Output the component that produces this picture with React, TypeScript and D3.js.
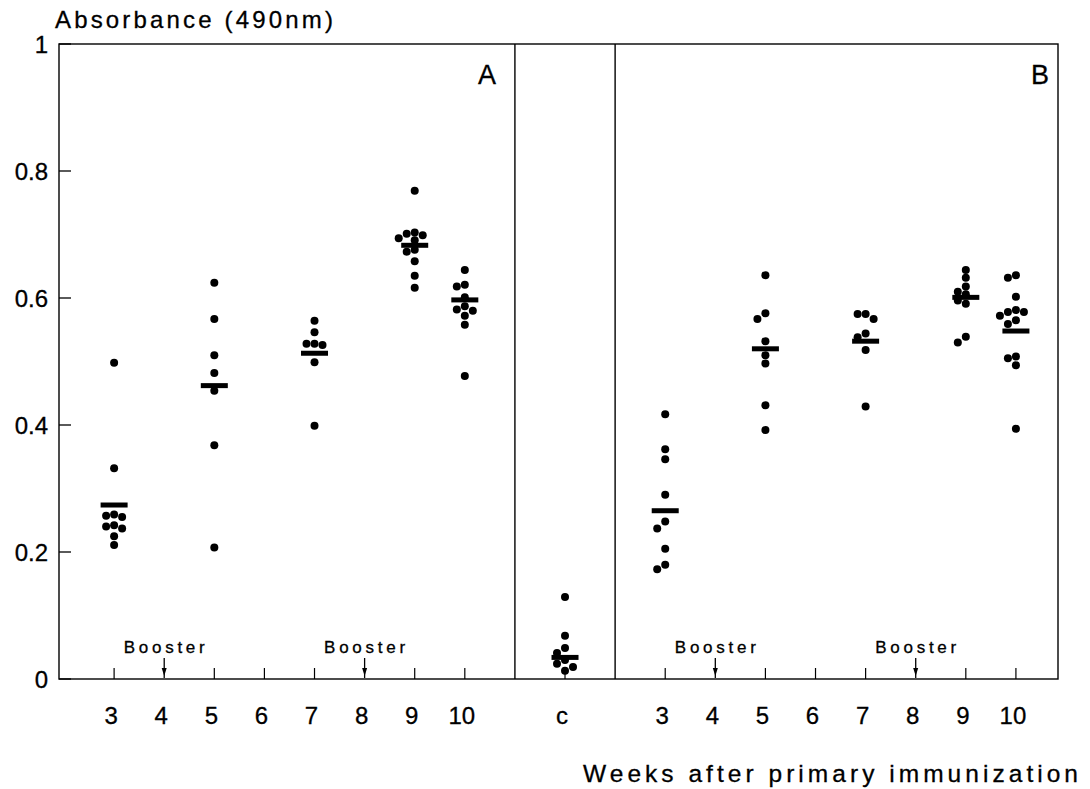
import React from "react";
import * as d3 from "d3";

// ---- Data ----
const weeks = [3, 5, 7, 9, 10];
const panelAValues: number[][] = [
  [0.498, 0.332, 0.259, 0.257, 0.255, 0.242, 0.24, 0.237, 0.225, 0.211],
  [0.624, 0.567, 0.51, 0.482, 0.454, 0.368, 0.207],
  [0.564, 0.546, 0.528, 0.528, 0.526, 0.499, 0.399],
  [0.769, 0.703, 0.701, 0.699, 0.694, 0.691, 0.676, 0.673, 0.658, 0.635, 0.616],
  [0.644, 0.621, 0.618, 0.601, 0.587, 0.582, 0.58, 0.572, 0.558, 0.477],
];
const panelAMeans = [0.274, 0.462, 0.513, 0.683, 0.597];
const controlValues = [0.129, 0.068, 0.049, 0.041, 0.03, 0.024, 0.019, 0.013];
const controlMean = 0.034;
const panelBValues: number[][] = [
  [0.417, 0.362, 0.346, 0.29, 0.248, 0.237, 0.205, 0.18, 0.173],
  [0.636, 0.576, 0.567, 0.532, 0.51, 0.497, 0.431, 0.392],
  [0.575, 0.575, 0.567, 0.544, 0.538, 0.518, 0.429],
  [0.644, 0.632, 0.618, 0.61, 0.606, 0.596, 0.591, 0.539, 0.53],
  [0.636, 0.632, 0.602, 0.581, 0.578, 0.578, 0.572, 0.565, 0.559, 0.508, 0.505, 0.494, 0.394],
];
const panelBMeans = [0.265, 0.52, 0.532, 0.601, 0.548];
const tickWeeks = [3, 4, 5, 6, 7, 8, 9, 10];
const boosterWeeks = [4, 8];
const yTicks = [0, 0.2, 0.4, 0.6, 0.8, 1];
const yTickLabels = ["0", "0.2", "0.4", "0.6", "0.8", "1"];
const panelBOffset = 11; // week w in panel B sits at slot w + 11
const controlSlot = 12;
const dividerSlots = [11, 13];

const W = 1090;
const H = 789;
const FONT = "'Liberation Sans', Arial, Helvetica, sans-serif";

const x = d3.scaleLinear().domain([1.9, 21.84]).range([59, 1058]);
const y = d3.scaleLinear().domain([0, 1]).range([679, 44]);

const R = 4;

function swarm(values: number[], cx: number) {
  const placed: { x: number; y: number }[] = [];
  const offsets = [0, -8, 8, -16, 16];
  values.forEach((v) => {
    const py = y(v);
    for (const o of offsets) {
      const px = cx + o;
      const clash = placed.some((p) => Math.hypot(p.x - px, p.y - py) < 7.6);
      if (!clash) {
        placed.push({ x: px, y: py });
        return;
      }
    }
    placed.push({ x: cx, y: py });
  });
  return placed;
}

function Cluster({ values, mean, slot }: { values: number[]; mean: number; slot: number }) {
  const cx = x(slot);
  const pts = swarm(values, cx);
  return (
    <g>
      {pts.map((p, i) => (
        <circle key={i} cx={p.x} cy={p.y} r={R} fill="#000" />
      ))}
      <rect x={cx - 13.5} y={y(mean) - 2.5} width={27} height={5} fill="#000" />
    </g>
  );
}

function Booster({ slot }: { slot: number }) {
  const cx = x(slot);
  return (
    <g>
      <text
        x={cx}
        y={653}
        textAnchor="middle"
        fontFamily={FONT}
        fontSize={17}
        textLength={81}
        lengthAdjust="spacing"
        stroke="#000"
        strokeWidth={0.3}
      >
        Booster
      </text>
      <line x1={cx} x2={cx} y1={658} y2={678} stroke="#000" strokeWidth={1.3} />
      <path d={`M${cx - 2.5},${668} L${cx + 2.5},${668} L${cx},${676} Z`} fill="#000" />
    </g>
  );
}

export default function App() {
  const left = x.range()[0];
  const right = x.range()[1];
  const top = y(1);
  const bottom = y(0);
  const xLabels: { slot: number; label: string }[] = [
    ...tickWeeks.map((w) => ({ slot: w, label: String(w) })),
    { slot: controlSlot, label: "c" },
    ...tickWeeks.map((w) => ({ slot: w + panelBOffset, label: String(w) })),
  ];
  const tickSlots = [
    ...tickWeeks.filter((w) => !boosterWeeks.includes(w)),
    controlSlot,
    ...tickWeeks.filter((w) => !boosterWeeks.includes(w)).map((w) => w + panelBOffset),
  ];
  return (
    <svg
      width={W}
      height={H}
      style={{ position: "absolute", left: 0, top: 0, background: "#fff" }}
    >
      <rect width={W} height={H} fill="#fff" />
      {/* frame */}
      <rect x={left} y={top} width={right - left} height={bottom - top} fill="none" stroke="#000" strokeWidth={1.4} />
      {dividerSlots.map((s) => (
        <line key={s} x1={x(s)} x2={x(s)} y1={top} y2={bottom} stroke="#000" strokeWidth={1.4} />
      ))}
      {/* y ticks */}
      {yTicks.map((t, i) => (
        <g key={t}>
          <line x1={left} x2={left + 12} y1={y(t)} y2={y(t)} stroke="#000" strokeWidth={1.3} />
          <text
            x={48}
            y={y(t) + 9}
            textAnchor="end"
            fontFamily={FONT}
            fontSize={24}
            stroke="#000"
            strokeWidth={0.3}
          >
            {yTickLabels[i]}
          </text>
        </g>
      ))}
      {/* x ticks */}
      {tickSlots.map((s) => (
        <line key={s} x1={x(s)} x2={x(s)} y1={bottom} y2={bottom - 11} stroke="#000" strokeWidth={1.2} />
      ))}
      {xLabels.map((l, i) => (
        <text key={i} x={x(l.slot) - 3} y={724} textAnchor="middle" fontFamily={FONT} fontSize={24} stroke="#000" strokeWidth={0.3}>
          {l.label}
        </text>
      ))}
      {/* boosters */}
      {boosterWeeks.map((w) => (
        <Booster key={"a" + w} slot={w} />
      ))}
      {boosterWeeks.map((w) => (
        <Booster key={"b" + w} slot={w + panelBOffset} />
      ))}
      {/* data */}
      {weeks.map((w, i) => (
        <Cluster key={"A" + w} values={panelAValues[i]} mean={panelAMeans[i]} slot={w} />
      ))}
      <Cluster values={controlValues} mean={controlMean} slot={controlSlot} />
      {weeks.map((w, i) => (
        <Cluster key={"B" + w} values={panelBValues[i]} mean={panelBMeans[i]} slot={w + panelBOffset} />
      ))}
      {/* panel letters */}
      <text x={487} y={84} textAnchor="middle" fontFamily={FONT} fontSize={27} stroke="#000" strokeWidth={0.3}>A</text>
      <text x={1040} y={84} textAnchor="middle" fontFamily={FONT} fontSize={27} stroke="#000" strokeWidth={0.3}>B</text>
      {/* titles */}
      <text x={55} y={28} fontFamily={FONT} fontSize={24} textLength={278} lengthAdjust="spacing" stroke="#000" strokeWidth={0.3}>
        Absorbance (490nm)
      </text>
      <text x={583} y={782} fontFamily={FONT} fontSize={24.5} textLength={495} lengthAdjust="spacing" stroke="#000" strokeWidth={0.3}>
        Weeks after primary immunization
      </text>
    </svg>
  );
}
